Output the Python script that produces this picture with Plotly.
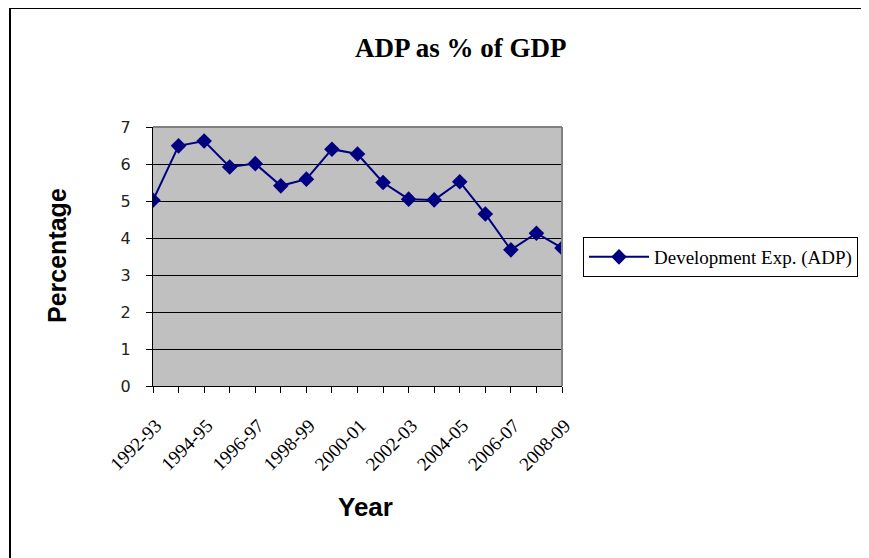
import plotly.graph_objs as go

years = ['1992-93', '1993-94', '1994-95', '1995-96', '1996-97', '1997-98',
         '1998-99', '1999-00', '2000-01', '2001-02', '2002-03', '2003-04',
         '2004-05', '2005-06', '2006-07', '2007-08', '2008-09']
adp_pct = [5.02, 6.49, 6.62, 5.92, 6.01, 5.41, 5.59, 6.40, 6.27, 5.50,
           5.05, 5.03, 5.52, 4.65, 3.68, 4.13, 3.73]
y_ticks = [0, 1, 2, 3, 4, 5, 6, 7]

# only every other year gets a label, as in the original
tick_text = [y if i % 2 == 0 else '' for i, y in enumerate(years)]

W, H = 869, 558
OFF = 8  # the page body adds an 8px margin, pull everything back by that
L, R, T, B = 153 - OFF, 562 - OFF, 127 - OFF, 386 - OFF
pw, ph = R - L, B - T


def px_x(x):
    return (x - OFF - L) / pw


def px_y(y):
    return (B - (y - OFF)) / ph


trace = go.Scatter(
    x=years,
    y=adp_pct,
    mode='lines+markers',
    name='Development Exp. (ADP)',
    line={'color': '#000080', 'width': 2},
    marker={'symbol': 'diamond', 'size': 12, 'color': '#000080'},
)

layout = go.Layout(
    width=W,
    height=H,
    autosize=False,
    margin={'l': L, 'r': W - R, 't': T, 'b': H - B, 'pad': 0},
    paper_bgcolor='white',
    plot_bgcolor='#C0C0C0',
    font={'family': 'Liberation Serif', 'size': 15, 'color': 'black'},
    showlegend=True,
    legend={
        'x': px_x(583), 'y': px_y(237),
        'xanchor': 'left', 'yanchor': 'top',
        'bordercolor': 'black', 'borderwidth': 1,
        'bgcolor': 'white',
        'itemwidth': 60,
        'font': {'family': 'Liberation Serif', 'size': 19},
    },
    xaxis={
        'type': 'category',
        'range': [0, len(years) - 1],
        'tickvals': years,
        'ticktext': tick_text,
        'tickangle': -45,
        'ticks': 'outside',
        'ticklen': 6,
        'tickcolor': 'black',
        'showline': True,
        'linecolor': 'black',
        'linewidth': 1,
        'showgrid': False,
        'zeroline': False,
        'ticklabelstandoff': 14,
        'ticklabelshift': 3,
        'tickfont': {'family': 'Liberation Serif', 'size': 19},
    },
    yaxis={
        'range': [0, 7],
        'tickvals': y_ticks,
        'ticks': 'outside',
        'ticklen': 6,
        'tickcolor': 'black',
        'showline': True,
        'linecolor': 'black',
        'linewidth': 1,
        'showgrid': True,
        'gridcolor': 'black',
        'gridwidth': 1,
        'zeroline': False,
        'ticklabelstandoff': 12,
        'tickfont': {'family': 'DejaVu Sans', 'size': 16, 'color': '#222222'},
    },
    annotations=[
        {'text': '<b>ADP as % of GDP</b>', 'xref': 'paper', 'yref': 'paper',
         'x': px_x(461), 'y': px_y(48), 'xanchor': 'center', 'yanchor': 'middle',
         'showarrow': False,
         'font': {'family': 'Liberation Serif', 'size': 27, 'color': 'black'}},
        {'text': '<b>Percentage</b>', 'xref': 'paper', 'yref': 'paper',
         'x': px_x(57), 'y': px_y(256), 'xanchor': 'center', 'yanchor': 'middle',
         'textangle': -90, 'showarrow': False,
         'font': {'family': 'Liberation Sans', 'size': 25, 'color': 'black'}},
        {'text': '<b>Year</b>', 'xref': 'paper', 'yref': 'paper',
         'x': px_x(365), 'y': px_y(507), 'xanchor': 'center', 'yanchor': 'middle',
         'showarrow': False,
         'font': {'family': 'Liberation Sans', 'size': 26, 'color': 'black'}},
    ],
    shapes=[
        # grey border round the plot area (top and right)
        {'type': 'line', 'xref': 'paper', 'yref': 'paper',
         'x0': 0, 'x1': 1, 'y0': 1, 'y1': 1,
         'line': {'color': '#808080', 'width': 2}},
        {'type': 'line', 'xref': 'paper', 'yref': 'paper',
         'x0': 1, 'x1': 1, 'y0': 0, 'y1': 1,
         'line': {'color': '#808080', 'width': 2}},
        # outer frame of the chart
        {'type': 'line', 'xref': 'paper', 'yref': 'paper',
         'x0': px_x(10), 'x1': px_x(W + 20), 'y0': px_y(8), 'y1': px_y(8),
         'line': {'color': 'black', 'width': 2}},
        {'type': 'line', 'xref': 'paper', 'yref': 'paper',
         'x0': px_x(10), 'x1': px_x(10), 'y0': px_y(8), 'y1': px_y(H + 20),
         'line': {'color': 'black', 'width': 2}},
    ],
)

fig = go.Figure(data=[trace], layout=layout)
fig.write_html("out.html")
